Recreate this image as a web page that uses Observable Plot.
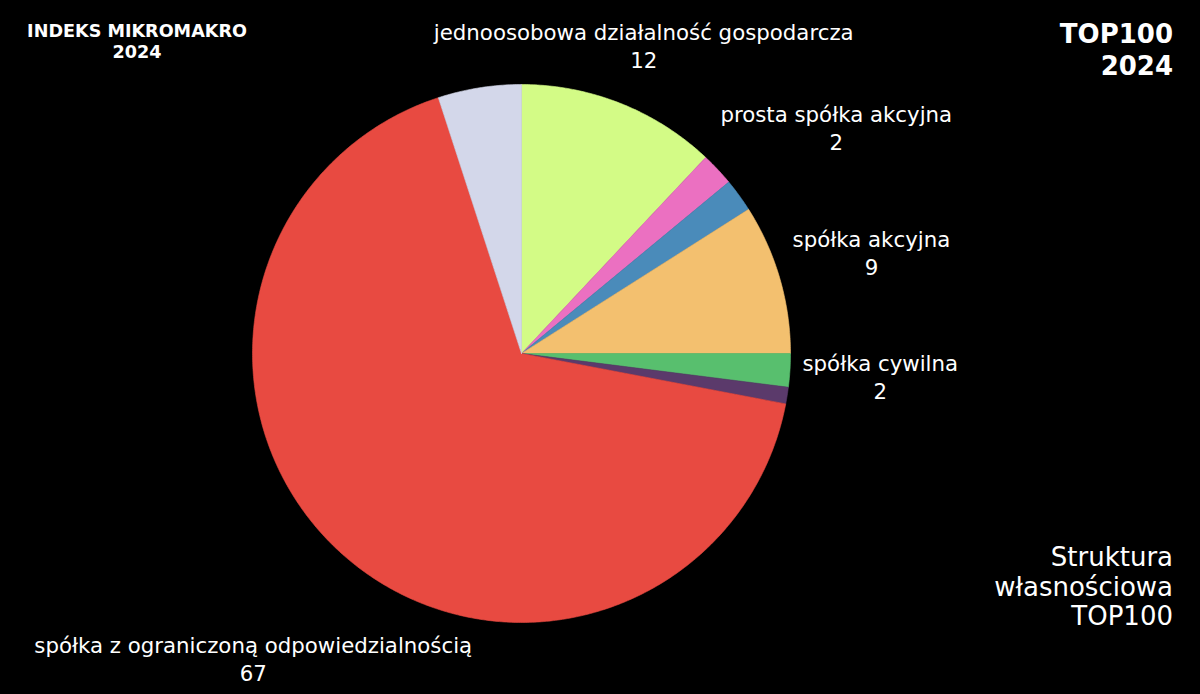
<!DOCTYPE html>
<html>
<head>
<meta charset="utf-8">
<script src="https://cdn.jsdelivr.net/npm/d3@7"></script>
<script src="https://cdn.jsdelivr.net/npm/@observablehq/plot@0.6"></script>
<style>
  html, body { margin: 0; padding: 0; background: #000; }
  #wrap { position: relative; width: 1200px; height: 694px; overflow: hidden; background: #000;
          font-family: "DejaVu Sans", Verdana, sans-serif; color: #fff; }
  #wrap svg { position: absolute; left: 0; top: 0; }
  .note { position: absolute; white-space: nowrap; }
  #brand { left: 0; width: 274px; top: 21px; text-align: center; font-weight: bold; font-size: 17.6px; line-height: 21px; }
  #edition { right: 27px; top: 18px; text-align: right; font-weight: bold; font-size: 26px; line-height: 32px; }
  #subject { right: 27px; top: 543px; text-align: right; font-size: 26px; line-height: 29.5px; }
</style>
</head>
<body>
<div id="wrap">
  <div class="note" id="brand">INDEKS MIKROMAKRO<br>2024</div>
  <div class="note" id="edition">TOP100<br>2024</div>
  <div class="note" id="subject">Struktura<br>własnościowa<br>TOP100</div>
</div>
<script>
// ---- data (clockwise from 12 o'clock) ----
const categories = [
  "jednoosobowa działalność gospodarcza",
  "prosta spółka akcyjna",
  "",
  "spółka akcyjna",
  "spółka cywilna",
  "",
  "spółka z ograniczoną odpowiedzialnością",
  ""
];
const values = [12, 2, 2, 9, 2, 1, 67, 5];
const colors = ["#d3fb86", "#eb70c1", "#4a8bba", "#f3c06f", "#58bf6e", "#5b3a6b", "#e84a41", "#d3d7ea"];

// ---- layout ----
const W = 1200, H = 694;
const mL = 252, mR = 410, mT = 84, mB = 72;
const R = (W - mL - mR) / 2;
const fontSize = 21.3, lineHeight = 1.3;
const labelRadius = R + 12;
const labelGap = 26;

const arcs = d3.pie().sort(null).value(d => d)(values);

// wedge outlines in unit-circle coordinates (y up)
const wedges = arcs.flatMap((a, i) => {
  const n = Math.max(2, Math.ceil((a.endAngle - a.startAngle) / (Math.PI / 360)));
  const pts = [{key: i, color: colors[i], x: 0, y: 0}];
  for (let k = 0; k <= n; k++) {
    const t = a.startAngle + (a.endAngle - a.startAngle) * k / n;
    pts.push({key: i, color: colors[i], x: Math.sin(t), y: Math.cos(t)});
  }
  pts.push({key: i, color: colors[i], x: 0, y: 0});
  return pts;
});

// outside labels: box touches a circle slightly larger than the pie, along the slice's mid angle
const ctx = document.createElement("canvas").getContext("2d");
ctx.font = `${fontSize}px "DejaVu Sans"`;
const clamp0 = (a, b) => Math.min(Math.max(0, a), b);
function boxAt(theta, w, h) {
  const ux = Math.sin(theta), uy = -Math.cos(theta);
  const dist = t => {
    const cx = ux * t, cy = uy * t;
    return Math.hypot(clamp0(cx - w / 2, cx + w / 2), clamp0(cy - h / 2, cy + h / 2));
  };
  let lo = 0, hi = 3000;
  for (let k = 0; k < 60; k++) { const m = (lo + hi) / 2; if (dist(m) < labelRadius) lo = m; else hi = m; }
  const cx = ux * hi, cy = uy * hi;
  return {cx, cy, x0: cx - w / 2, x1: cx + w / 2, y0: cy - h / 2, y1: cy + h / 2};
}
const overlaps = (p, b, g) => !(b.x0 >= p.x1 + g || b.x1 <= p.x0 - g || b.y0 >= p.y1 + g || b.y1 <= p.y0 - g);

const placed = [];
const labelData = [];
arcs.forEach((a, i) => {
  if (!categories[i]) return;
  const lines = [categories[i], String(values[i])];
  const w = Math.max(...lines.map(s => ctx.measureText(s).width));
  const h = lines.length * lineHeight * fontSize;
  const mid = (a.startAngle + a.endAngle) / 2;
  let theta = mid, b = boxAt(theta, w, h);
  while (placed.some(p => overlaps(p, b, labelGap)) && theta < mid + Math.PI / 3) {
    theta += Math.PI / 720;
    b = boxAt(theta, w, h);
  }
  placed.push(b);
  labelData.push({x: b.cx / R, y: -b.cy / R, text: lines.join("\n")});
});

const chart = Plot.plot({
  width: W, height: H,
  marginLeft: mL, marginRight: mR, marginTop: mT, marginBottom: mB,
  x: {domain: [-1, 1], axis: null},
  y: {domain: [-1, 1], axis: null},
  color: {type: "identity"},
  style: {background: "transparent", color: "white", overflow: "visible"},
  marks: [
    Plot.line(wedges, {x: "x", y: "y", z: "key", fill: "color", stroke: "color", strokeWidth: 0.6, curve: "linear"}),
    Plot.text(labelData, {
      x: "x", y: "y", text: "text",
      textAnchor: "middle", lineAnchor: "middle", lineHeight,
      fontSize, fontFamily: "DejaVu Sans", fill: "white"
    })
  ]
});
document.getElementById("wrap").prepend(chart);
</script>
</body>
</html>
